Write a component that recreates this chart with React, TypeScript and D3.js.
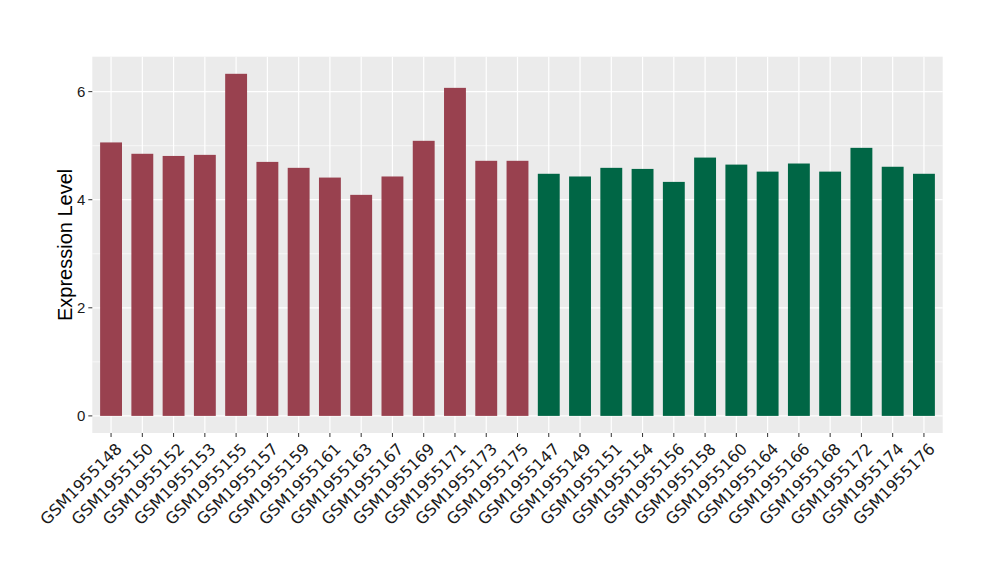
import React from "react";
import * as d3 from "d3";

const samples = [
  "GSM1955148","GSM1955150","GSM1955152","GSM1955153","GSM1955155","GSM1955157","GSM1955159",
  "GSM1955161","GSM1955163","GSM1955167","GSM1955169","GSM1955171","GSM1955173","GSM1955175",
  "GSM1955147","GSM1955149","GSM1955151","GSM1955154","GSM1955156","GSM1955158","GSM1955160",
  "GSM1955164","GSM1955166","GSM1955168","GSM1955172","GSM1955174","GSM1955176",
];
const values = [
  5.06, 4.85, 4.81, 4.83, 6.33, 4.70, 4.59, 4.41, 4.09, 4.43, 5.09, 6.07, 4.72, 4.72,
  4.48, 4.43, 4.59, 4.57, 4.33, 4.78, 4.65, 4.52, 4.67, 4.52, 4.96, 4.61, 4.48,
];
const groups = [
  "A","A","A","A","A","A","A","A","A","A","A","A","A","A",
  "B","B","B","B","B","B","B","B","B","B","B","B","B",
];
const groupColors: Record<string, string> = { A: "#99414F", B: "#006645" };
const yTicks = [0, 2, 4, 6];
const yMinor = [1, 3, 5];

export default function App() {
  const W = 1000, H = 580;
  const left = 92.3, right = 942.7, top = 56.7, bottom = 433;
  const n = samples.length;
  const maxV = d3.max(values) as number;
  const pad = maxV * 0.05;
  const y = d3.scaleLinear().domain([-pad, maxV + pad]).range([bottom, top]);
  const step = (right - left) / (n - 1 + 1.2);
  const x = d3.scalePoint<string>().domain(samples).range([left + 0.6 * step, right - 0.6 * step]);
  const bw = step * 0.7;
  const font = "'Liberation Sans', Arial, sans-serif";
  return (
    <svg width={W} height={H} style={{ position: "absolute", left: 0, top: 0 }} fontFamily={font}>
      <rect x={0} y={0} width={W} height={H} fill="#ffffff" />
      <rect x={left} y={top} width={right - left} height={bottom - top} fill="#EBEBEB" />
      {yMinor.map((t) => (
        <line key={"m" + t} x1={left} x2={right} y1={y(t)} y2={y(t)} stroke="#ffffff" strokeWidth={0.6} />
      ))}
      {yTicks.map((t) => (
        <line key={"g" + t} x1={left} x2={right} y1={y(t)} y2={y(t)} stroke="#ffffff" strokeWidth={1.2} />
      ))}
      {samples.map((s) => (
        <line key={"v" + s} x1={x(s)} x2={x(s)} y1={top} y2={bottom} stroke="#ffffff" strokeWidth={1.2} />
      ))}
      {samples.map((s, i) => (
        <rect
          key={"b" + s}
          x={(x(s) as number) - bw / 2}
          width={bw}
          y={y(values[i])}
          height={y(0) - y(values[i])}
          fill={groupColors[groups[i]]}
        />
      ))}
      {yTicks.map((t) => (
        <g key={"yt" + t}>
          <line x1={left - 4} x2={left} y1={y(t)} y2={y(t)} stroke="#333333" strokeWidth={1} />
          <text x={left - 7} y={y(t)} dy="0.35em" textAnchor="end" fontSize={15} fill="#1a1a1a">
            {t}
          </text>
        </g>
      ))}
      {samples.map((s) => (
        <g key={"xt" + s}>
          <line x1={x(s)} x2={x(s)} y1={bottom} y2={bottom + 4} stroke="#333333" strokeWidth={1} />
          <text
            transform={`translate(${(x(s) as number) + 4},${bottom + 9}) rotate(-45)`}
            textAnchor="end"
            dy="0.7em"
            fontSize={16}
            fontFamily="'DejaVu Sans', sans-serif"
            fill="#1a1a1a"
          >
            {s}
          </text>
        </g>
      ))}
      <text
        transform={`translate(72,${(top + bottom) / 2}) rotate(-90)`}
        textAnchor="middle"
        fontSize={20}
        fill="#000000"
      >
        Expression Level
      </text>
    </svg>
  );
}
